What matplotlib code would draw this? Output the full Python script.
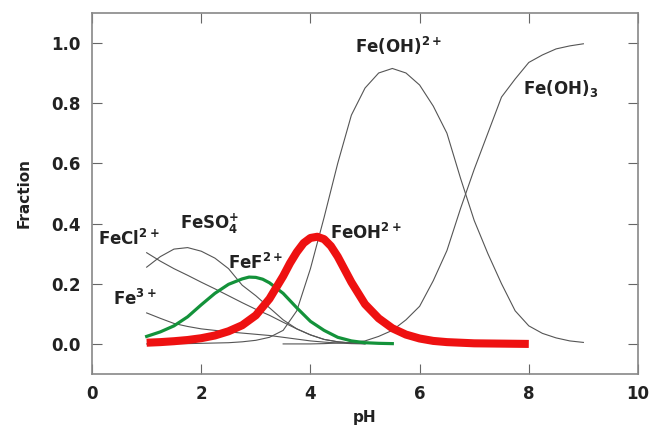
import matplotlib
matplotlib.use("Agg")
import matplotlib.pyplot as plt

# Fe(III) speciation vs pH
ph_a = [1.0, 1.25, 1.5, 1.75, 2.0, 2.25, 2.5, 2.75, 3.0, 3.25, 3.5, 3.75, 4.0,
        4.25, 4.5, 4.75, 5.0]
fe3 = [0.103, 0.085, 0.068, 0.058, 0.050, 0.045, 0.040, 0.036, 0.032, 0.028,
       0.022, 0.016, 0.010, 0.006, 0.003, 0.001, 0.0]
fecl = [0.303, 0.275, 0.250, 0.228, 0.205, 0.183, 0.160, 0.137, 0.115, 0.095,
        0.072, 0.050, 0.030, 0.015, 0.007, 0.003, 0.001]
feso4 = [0.255, 0.290, 0.315, 0.320, 0.308, 0.285, 0.250, 0.195, 0.160, 0.120,
         0.080, 0.050, 0.030, 0.015, 0.007, 0.003, 0.001]

ph_f = [1.0, 1.25, 1.5, 1.75, 2.0, 2.25, 2.5, 2.75, 2.875, 3.0, 3.125, 3.25,
        3.5, 3.75, 4.0, 4.25, 4.5, 4.75, 5.0, 5.25, 5.5]
fef = [0.025, 0.040, 0.060, 0.090, 0.130, 0.168, 0.198, 0.216, 0.222, 0.221,
       0.215, 0.203, 0.168, 0.120, 0.075, 0.045, 0.022, 0.010, 0.004, 0.002,
       0.001]

ph_r = [1.0, 1.25, 1.5, 1.75, 2.0, 2.25, 2.5, 2.75, 3.0, 3.25, 3.5, 3.625,
        3.75, 3.875, 4.0, 4.125, 4.25, 4.375, 4.5, 4.75, 5.0, 5.25, 5.5, 5.75,
        6.0, 6.25, 6.5, 6.75, 7.0, 7.5, 8.0]
feoh = [0.004, 0.006, 0.009, 0.013, 0.019, 0.028, 0.042, 0.062, 0.095, 0.150,
        0.225, 0.268, 0.305, 0.335, 0.352, 0.356, 0.348, 0.325, 0.290, 0.205,
        0.132, 0.085, 0.052, 0.031, 0.018, 0.010, 0.006, 0.004, 0.002, 0.001,
        0.0]

ph_b = [1.0, 1.25, 1.5, 1.75, 2.0, 2.25, 2.5, 2.75, 3.0, 3.25, 3.5, 3.75, 4.0,
        4.25, 4.5, 4.75, 5.0, 5.25, 5.5, 5.75, 6.0, 6.25, 6.5, 6.75, 7.0, 7.25,
        7.5, 7.75, 8.0, 8.25, 8.5, 8.75, 9.0]
feoh2 = [0.0, 0.0, 0.001, 0.001, 0.002, 0.003, 0.004, 0.007, 0.012, 0.022,
         0.045, 0.110, 0.250, 0.420, 0.600, 0.760, 0.850, 0.900, 0.915, 0.900,
         0.860, 0.790, 0.700, 0.550, 0.410, 0.300, 0.200, 0.110, 0.060, 0.035,
         0.020, 0.010, 0.005]

ph_c = [3.5, 3.75, 4.0, 4.25, 4.5, 4.75, 5.0, 5.25, 5.5, 5.75, 6.0, 6.25, 6.5,
        6.75, 7.0, 7.25, 7.5, 7.75, 8.0, 8.25, 8.5, 8.75, 9.0]
feoh3 = [0.0, 0.0, 0.0, 0.001, 0.003, 0.005, 0.010, 0.025, 0.045, 0.080, 0.125,
         0.210, 0.310, 0.450, 0.580, 0.700, 0.820, 0.880, 0.935, 0.960, 0.980,
         0.990, 0.997]

fig = plt.figure(figsize=(6.53, 4.26), dpi=100)
ax = fig.add_axes([0.141, 0.122, 0.836, 0.848])

thin = dict(color="#555555", lw=0.8)
ax.plot(ph_a, fe3, **thin)
ax.plot(ph_a, fecl, **thin)
ax.plot(ph_a, feso4, **thin)
ax.plot(ph_b, feoh2, **thin)
ax.plot(ph_c, feoh3, **thin)
ax.plot(ph_f, fef, color="#13923a", lw=2.3, solid_joinstyle="round")
ax.plot(ph_r, feoh, color="#ee1111", lw=5.8, solid_capstyle="butt",
        solid_joinstyle="round")

font = dict(family="DejaVu Sans", fontweight="bold", fontsize=12, color="#222222")
ax.text(4.82, 0.99, r"Fe(OH)$^{\mathbf{2+}}$", va="center", **font)
ax.text(7.89, 0.85, r"Fe(OH)$_{\mathbf{3}}$", va="center", **font)
ax.text(1.61, 0.40, r"FeSO$_{\mathbf{4}}^{\mathbf{+}}$", va="center", **font)
ax.text(0.11, 0.35, r"FeCl$^{\mathbf{2+}}$", va="center", **font)
ax.text(2.49, 0.27, r"FeF$^{\mathbf{2+}}$", va="center", **font)
ax.text(0.39, 0.15, r"Fe$^{\mathbf{3+}}$", va="center", **font)
ax.text(4.36, 0.37, r"FeOH$^{\mathbf{2+}}$", va="center", **font)

ax.set_xlim(0, 10)
ax.set_ylim(-0.1, 1.1)
ax.set_xticks([0, 2, 4, 6, 8, 10])
ax.set_yticks([0.0, 0.2, 0.4, 0.6, 0.8, 1.0])
ax.set_yticklabels(["0.0", "0.2", "0.4", "0.6", "0.8", "1.0"])
ax.tick_params(direction="in", length=7, width=0.8, color="#666666",
               top=True, right=True, labelsize=12, pad=8)
for lab in ax.get_xticklabels() + ax.get_yticklabels():
    lab.set_fontweight("bold")
    lab.set_color("#222222")
for s in ax.spines.values():
    s.set_color("#888888")
    s.set_linewidth(1.2)

ax.set_ylabel("Fraction", fontsize=11, fontweight="bold", color="#222222", labelpad=14)
ax.set_xlabel("pH", fontsize=11, fontweight="bold", color="#222222", labelpad=5)

fig.savefig("out.png", dpi=100)
